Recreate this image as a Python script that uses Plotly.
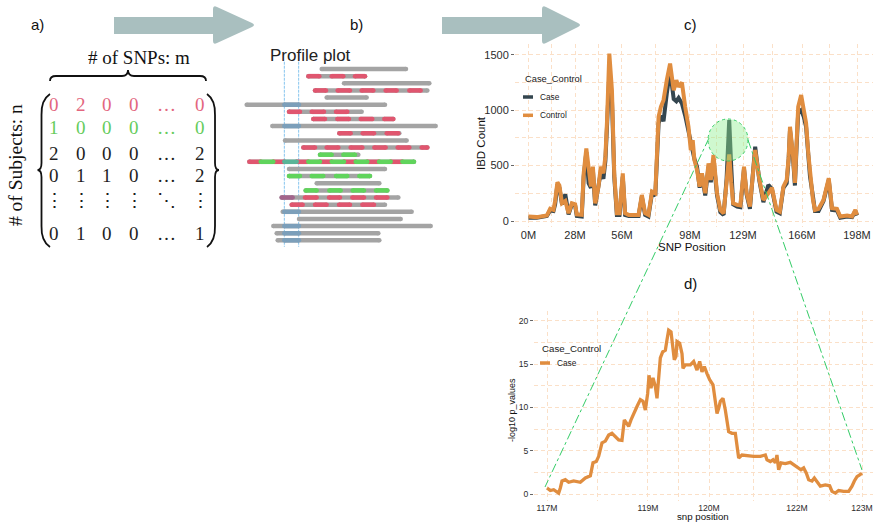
import plotly.graph_objects as go

W, H = 873, 522

# ---------------- data: panel c (IBD counts along the chromosome) ----------------
snp_idx = [0, 2.5, 5.6, 6.6, 7.6, 8.1, 8.8, 9.4, 10.2, 11.2, 12.2, 13.2, 14.2, 14.7, 16.2,
           16.8, 17.6, 18.3, 19.0, 19.6, 20.3, 21.3, 22.0, 22.8, 23.4, 23.9, 24.6, 25.4,
           26.1, 26.9, 27.7, 28.7, 29.4, 30.5, 33.5, 34.5, 35.5, 36.5, 37.6, 38.6, 39.1,
           39.6, 40.3, 41.1, 42.1, 43.1, 44.2, 45.0, 45.7, 46.7, 47.7, 48.7, 49.4, 50.0,
           50.5, 51.3, 52.1, 52.8, 53.8, 54.8, 55.5, 56.3, 57.4, 58.4, 59.4, 60.3, 61.1,
           61.7, 62.3, 63.5, 64.5, 65.6, 66.4, 67.4, 69.0, 70.3, 71.5, 73.0, 74.1, 75.5,
           76.5, 77.6, 78.6, 79.2, 79.6, 80.5, 81.1, 81.6, 82.1, 83.0, 83.8, 84.5, 85.2,
           85.7, 86.6, 87.2, 88.3, 89.8, 91.4, 92.4, 93.9, 94.9, 97.0, 98.5, 99.5, 100]
control_ibd = [40, 35, 50, 110, 100, 180, 350, 320, 160, 180, 70, 160, 150, 60, 55,
               430, 655, 490, 310, 490, 160, 310, 490, 430, 580, 900, 1510, 1180,
               430, 70, 70, 430, 70, 55, 55, 235, 70, 55, 265, 250, 600,
               940, 1030, 1090, 1270, 1420, 1180, 1270, 1210, 1250, 1030, 850, 640, 730,
               550, 460, 310, 430, 250, 520, 370, 595, 250, 100, 70, 370, 600,
               350, 160, 145, 140, 490, 250, 130, 640, 370, 190, 250, 300, 100,
               85, 310, 370, 580, 850, 600, 343, 700, 1030, 1136, 1000, 883, 600,
               433, 190, 100, 110, 190, 385, 115, 110, 40, 50, 40, 100, 55]
case_ibd = [30, 30, 45, 95, 90, 150, 330, 300, 150, 240, 60, 150, 140, 45, 40,
            400, 620, 340, 300, 460, 140, 290, 440, 380, 540, 850, 1330, 1100,
            400, 55, 55, 400, 55, 45, 45, 220, 55, 40, 250, 230, 560,
            880, 950, 900, 1150, 1360, 1100, 1080, 1110, 1060, 950, 800, 720, 650,
            560, 490, 300, 420, 230, 490, 350, 560, 230, 80, 55, 380, 910,
            500, 150, 130, 125, 470, 240, 110, 670, 360, 170, 325, 290, 85,
            70, 300, 340, 560, 820, 580, 320, 660, 980, 1000, 940, 850, 560,
            400, 220, 90, 90, 180, 370, 100, 95, 30, 40, 35, 90, 50]
c_tick_idx = [0, 14.16, 28.46, 49.16, 65.3, 83.26, 100]
c_tick_text = ["0M", "28M", "56M", "98M", "129M", "166M", "198M"]
c_minor_idx = [7.08, 21.31, 38.81, 57.23, 74.28, 91.63]
c_y_ticks = [0, 500, 1000, 1500]
c_y_minor = [250, 750, 1250]

# ---------------- data: panel d (-log10 p values in the zoomed region) ----------------
zoom_idx = [0, 1.06, 2.12, 3.17, 3.7, 4.23, 4.76, 5.82, 6.88, 8.47, 10.58, 12.17, 13.76,
            14.6, 15.66, 16.4, 17.46, 18.52, 19.58, 20.63, 21.69, 22.75, 23.8, 24.55,
            25.19, 25.93, 26.67, 27.51, 28.57, 29.63, 30.48, 31.22, 31.96, 32.38, 33.02,
            33.65, 34.39, 34.92, 35.45, 35.98, 36.72, 37.57, 38.1, 38.62, 39.37, 40.0,
            40.42, 40.95, 41.27, 42.12, 42.86, 43.17, 43.92, 45.5, 46.56, 47.62, 48.47,
            49.2, 49.95, 50.79, 51.64, 52.7, 53.44, 53.97, 54.5, 55.03, 55.87, 56.61,
            57.67, 58.73, 59.79, 60.32, 60.85, 61.9, 63.49, 65.61, 67.72, 69.31, 69.84,
            70.9, 71.75, 72.49, 73.0, 73.54, 74.29, 75.66, 77.25, 78.3, 79.58, 80.63,
            81.48, 82.33, 83.07, 84.13, 84.87, 85.71, 86.77, 88.36, 89.73, 90.48, 91.53,
            92.59, 94.18, 95.77, 96.83, 97.57, 98.41, 99.26, 100]
neglog_p = [0.7, 0.4, 0.5, 0.3, 0.1, 0.7, 1.5, 1.65, 1.35, 1.5, 1.35, 1.85, 2.1,
            3.6, 3.75, 4.35, 5.9, 6.1, 6.8, 7.0, 6.6, 6.25, 6.2, 8.55,
            8.2, 7.8, 8.55, 9.3, 10.1, 10.9, 10.7, 9.7, 11.6, 13.7, 12.2,
            13.4, 12.4, 11.05, 13.2, 15.7, 16.4, 16.6, 17.8, 18.9, 18.7, 17.0,
            15.5, 15.9, 17.6, 17.4, 16.2, 14.5, 14.9, 14.9, 15.3, 14.3, 15.3,
            14.1, 14.7, 13.9, 13.2, 12.6, 10.9, 9.3, 9.9, 10.7, 11.05, 9.7,
            7.2, 7.0, 7.0, 5.5, 4.15, 4.5, 4.4, 4.35, 4.35, 4.5, 3.95,
            3.75, 3.95, 3.6, 4.5, 2.8, 3.6, 3.5, 3.65, 3.4, 3.0, 2.8,
            3.0, 2.4, 1.65, 1.5, 1.85, 1.35, 0.9, 1.05, 0.95, 0.3, 0.1,
            0.4, 0.3, 0.3, 0.9, 1.5, 2.0, 2.2, 2.4]
d_tick_idx = [0, 32.06, 51.43, 79.37, 100]
d_tick_text = ["117M", "119M", "120M", "122M", "123M"]
d_minor_idx = [16.03, 41.75, 65.4, 89.68]
d_y_ticks = [0, 5, 10, 15, 20]
d_y_minor = [2.5, 7.5, 12.5, 17.5]

# ---------------- data: panel a (genotype matrix) ----------------
matrix_rows = [["0", "2", "0", "0", "\u2026", "0"],
               ["1", "0", "0", "0", "\u2026", "0"],
               ["2", "0", "0", "0", "\u2026", "2"],
               ["0", "1", "1", "0", "\u2026", "2"],
               ["\u22ee", "\u22ee", "\u22ee", "\u22ee", "\u22f1", "\u22ee"],
               ["0", "1", "0", "0", "\u2026", "1"]]
matrix_row_kind = ["red", "green", "plain", "plain", "plain", "plain"]

# ---------------- data: panel b (profile plot segments per subject) ----------------
profile_rows = [
    (24.5, 49.8, []),
    (20.5, 37.5, [("red", 20.5, 23.8), ("red", 27.5, 31.0), ("red", 34.5, 37.5)]),
    (31.2, 56.8, []),
    (22.5, 56.2, [("red", 22.5, 25.8), ("red", 29.3, 33.0), ("red", 36.5, 40.0),
                  ("red", 43.7, 47.0), ("red", 50.8, 54.2)]),
    (26.0, 38.0, []),
    (2.0, 43.5, [("blue", 13.3, 17.7)]),
    (14.7, 36.5, [("red", 14.7, 18.0), ("red", 21.5, 25.2), ("red", 28.8, 32.2)]),
    (22.0, 46.0, [("red", 22.0, 25.5), ("red", 29.2, 32.7), ("red", 36.2, 39.7),
                  ("red", 43.3, 46.0)]),
    (9.7, 58.7, [("blue", 13.3, 17.7)]),
    (29.8, 47.8, [("red", 29.8, 33.2), ("red", 36.8, 40.2), ("red", 44.0, 47.5)]),
    (13.5, 50.0, []),
    (19.0, 56.2, [("red", 19.0, 22.5), ("red", 26.0, 29.5), ("red", 33.2, 36.7),
                  ("red", 40.3, 43.7), ("red", 47.3, 50.8), ("red", 54.5, 56.2)]),
    (24.0, 35.5, [("green", 24.0, 27.5), ("green", 31.0, 34.5)]),
    (2.8, 52.2, [("red", 2.8, 6.2), ("green", 6.2, 10.0), ("red", 10.0, 13.3),
                 ("teal", 13.3, 17.0), ("red", 17.0, 20.5), ("green", 20.5, 24.0),
                 ("red", 24.0, 27.5), ("green", 27.5, 31.2), ("red", 31.2, 34.7),
                 ("green", 34.7, 38.2), ("red", 38.2, 41.7), ("green", 41.7, 45.2),
                 ("red", 45.2, 48.7), ("green", 48.7, 52.2)]),
    (14.7, 43.5, []),
    (14.7, 39.0, [("green", 14.7, 18.0), ("green", 21.5, 25.0), ("green", 28.8, 32.2),
                  ("green", 35.8, 39.0)]),
    (23.0, 41.8, []),
    (19.7, 44.2, [("green", 19.7, 23.0), ("green", 26.8, 30.2), ("green", 33.8, 37.2),
                  ("green", 40.8, 44.2)]),
    (12.5, 47.5, [("purple", 12.5, 15.8), ("red", 19.5, 23.0), ("red", 26.7, 30.0),
                  ("red", 33.7, 37.2), ("red", 40.8, 44.2)]),
    (15.5, 43.5, [("red", 15.5, 18.8), ("red", 22.5, 26.0), ("red", 29.7, 33.0),
                  ("red", 36.7, 40.2)]),
    (12.8, 51.5, [("blue", 13.3, 17.7)]),
    (17.7, 48.2, []),
    (10.0, 57.2, [("blue", 13.3, 17.7)]),
    (11.0, 41.5, [("blue", 13.3, 17.7)]),
    (11.3, 41.8, [("blue", 13.3, 17.7)]),
]
window_bounds = [13.3, 17.6]

# ---------------- styles ----------------
ORANGE = "#E08D3F"
DARK = "#34464F"
GRID = "#FBE0C8"
ARROW = "#A9BFBF"
SEG_COL = {"gray": "#A4A4A4", "red": "#E0566F", "green": "#60D45C", "blue": "#7C9FBA",
           "teal": "#5AB598", "purple": "#A2658C"}
MAT_COL = {"red": "#E3667E", "green": "#66CC5C", "plain": "#1E1E1E"}
SANS = "Liberation Sans"
SERIF = "Liberation Serif"


def px(x):
    return x / W


def py(y):
    return 1 - y / H


def lin_range(dom0, dom1, a0, a1, v0, v1):
    k = (v1 - v0) / (a1 - a0)
    return [v0 + (dom0 - a0) * k, v0 + (dom1 - a0) * k]


def ppath(cmds):
    out = []
    for c in cmds:
        op = c[0]
        nums = c[1:]
        pts = []
        for i in range(0, len(nums), 2):
            pts.append(f"{px(nums[i]):.5f},{py(nums[i + 1]):.5f}")
        out.append(op + " " + " ".join(pts) if pts else op)
    return " ".join(out)


fig = go.Figure()

# ---------------- panel c traces ----------------
fig.add_trace(go.Scatter(x=snp_idx, y=case_ibd, mode="lines", name="Case",
                         line=dict(color=DARK, width=4), xaxis="x", yaxis="y",
                         showlegend=False))
fig.add_trace(go.Scatter(x=snp_idx, y=control_ibd, mode="lines", name="Control",
                         line=dict(color=ORANGE, width=4), xaxis="x", yaxis="y",
                         showlegend=False))

# ---------------- panel d trace ----------------
fig.add_trace(go.Scatter(x=zoom_idx, y=neglog_p, mode="lines", name="Case",
                         line=dict(color=ORANGE, width=3.3), xaxis="x2", yaxis="y2",
                         showlegend=False))

# ---------------- panel b traces ----------------
def add_segments(color_key, segs):
    xs, ys = [], []
    for (r, s, e) in segs:
        xs += [s, e, None]
        ys += [r, r, None]
    if xs:
        fig.add_trace(go.Scatter(x=xs, y=ys, mode="lines+markers", xaxis="x3", yaxis="y3",
                                 line=dict(color=SEG_COL[color_key], width=4.5),
                                 marker=dict(color=SEG_COL[color_key], size=4.5,
                                             line=dict(width=0)),
                                 showlegend=False, hoverinfo="skip"))


base = [(i + 1, s, e) for i, (s, e, _) in enumerate(profile_rows)]
add_segments("gray", base)
for key in ["blue", "red", "green", "teal", "purple"]:
    segs = []
    for i, (_, _, cs) in enumerate(profile_rows):
        for (k, s, e) in cs:
            if k == key:
                segs.append((i + 1, s, e))
    add_segments(key, segs)

shapes = []
annotations = []

# blue window lines in panel b
for xb in window_bounds:
    shapes.append(dict(type="line", xref="x3", yref="y3", x0=xb, x1=xb, y0=-0.02, y1=25.9,
                       line=dict(color="#86C5EE", width=1, dash="3px,1px"), layer="below"))

# ---------------- arrows ----------------
for (bx0, bx1, tip) in [(114, 213, 256), (442, 542, 582)]:
    shapes.append(dict(type="path", xref="paper", yref="paper", layer="below",
                       fillcolor=ARROW, line=dict(width=0),
                       path=ppath([("M", bx0, 17), ("L", bx1, 17), ("L", bx1, 9),
                                   ("Q", bx1, 5, bx1 + 4, 7), ("L", tip - 4, 23),
                                   ("Q", tip, 25, tip - 4, 27), ("L", bx1 + 4, 43),
                                   ("Q", bx1, 45, bx1, 41), ("L", bx1, 34), ("L", bx0, 34),
                                   ("Z",)])))

# ---------------- panel a: braces / brackets ----------------
shapes.append(dict(type="path", xref="paper", yref="paper", line=dict(color="#111", width=1.8),
                   path=ppath([("M", 50, 81), ("Q", 50, 76, 56, 76), ("L", 122, 76),
                               ("Q", 128, 76, 128, 70), ("Q", 128, 76, 134, 76),
                               ("L", 200, 76), ("Q", 206, 76, 206, 81)])))
shapes.append(dict(type="path", xref="paper", yref="paper", line=dict(color="#111", width=1.8),
                   path=ppath([("M", 50, 94), ("Q", 41, 100, 41.5, 115), ("L", 41.5, 163),
                               ("Q", 41.5, 170, 37.5, 170), ("Q", 41.5, 170, 41.5, 177),
                               ("L", 41.5, 226), ("Q", 41, 241, 50, 247)])))
shapes.append(dict(type="path", xref="paper", yref="paper", line=dict(color="#111", width=1.8),
                   path=ppath([("M", 207, 94), ("Q", 215.5, 100, 215, 115), ("L", 215, 163),
                               ("Q", 215, 170, 219, 170), ("Q", 215, 170, 215, 177),
                               ("L", 215, 226), ("Q", 215.5, 241, 207, 247)])))

col_x = [54.3, 81, 107.3, 134.3, 166.7, 200]
row_y = [104, 127.7, 153, 175.5, 200, 233]
for ri, row in enumerate(matrix_rows):
    for ci, val in enumerate(row):
        annotations.append(dict(x=px(col_x[ci]), y=py(row_y[ri]), xref="paper", yref="paper",
                                text=val, showarrow=False, xanchor="center", yanchor="middle",
                                font=dict(family=SERIF, size=19,
                                          color=MAT_COL[matrix_row_kind[ri]])))

annotations.append(dict(x=px(139), y=py(57), xref="paper", yref="paper", text="# of SNPs: m",
                        showarrow=False, xanchor="center", yanchor="middle",
                        font=dict(family=SERIF, size=19, color="#111")))
annotations.append(dict(x=px(15), y=py(165), xref="paper", yref="paper",
                        text="# of Subjects: n", textangle=-90, showarrow=False,
                        xanchor="center", yanchor="middle",
                        font=dict(family=SERIF, size=19.5, color="#111")))

# panel letters and titles
for (t, x, y) in [("a)", 37, 25), ("b)", 356, 25), ("c)", 690, 25), ("d)", 690, 283)]:
    annotations.append(dict(x=px(x), y=py(y), xref="paper", yref="paper", text=t,
                            showarrow=False, xanchor="center", yanchor="middle",
                            font=dict(family=SANS, size=15, color="#111")))
annotations.append(dict(x=px(310), y=py(55), xref="paper", yref="paper", text="Profile plot",
                        showarrow=False, xanchor="center", yanchor="middle",
                        font=dict(family=SANS, size=17, color="#222")))

# axis titles
annotations.append(dict(x=px(692), y=py(247), xref="paper", yref="paper", text="SNP Position",
                        showarrow=False, xanchor="center", yanchor="middle",
                        font=dict(family=SANS, size=11.5, color="#111")))
annotations.append(dict(x=px(481), y=py(143), xref="paper", yref="paper", text="IBD Count",
                        textangle=-90, showarrow=False, xanchor="center", yanchor="middle",
                        font=dict(family=SANS, size=11.5, color="#111")))
annotations.append(dict(x=px(703), y=py(516), xref="paper", yref="paper", text="snp position",
                        showarrow=False, xanchor="center", yanchor="middle",
                        font=dict(family=SANS, size=9.7, color="#111")))
annotations.append(dict(x=px(512), y=py(410), xref="paper", yref="paper",
                        text="-log10 p_values", textangle=-90, showarrow=False,
                        xanchor="center", yanchor="middle",
                        font=dict(family=SANS, size=9, color="#111")))

# legends (manual)
def legend_block(x0, ytitle, items, size_title, size_item, gap):
    annotations.append(dict(x=px(x0), y=py(ytitle), xref="paper", yref="paper",
                            text="Case_Control", showarrow=False, xanchor="left",
                            yanchor="middle", font=dict(family=SANS, size=size_title,
                                                        color="#1a1a1a")))
    for j, (label, col) in enumerate(items):
        yy = ytitle + gap[0] + j * gap[1]
        shapes.append(dict(type="line", xref="paper", yref="paper", x0=px(x0), x1=px(x0 + 10),
                           y0=py(yy), y1=py(yy), line=dict(color=col, width=3.5)))
        annotations.append(dict(x=px(x0 + 15), y=py(yy), xref="paper", yref="paper",
                                text=label, showarrow=False, xanchor="left", yanchor="middle",
                                font=dict(family=SANS, size=size_item, color="#1a1a1a")))


legend_block(523, 79, [("Case", DARK), ("Control", ORANGE)], 9.3, 8.3, (18, 18.3))
legend_block(540, 348, [("Case", ORANGE)], 9.7, 8.3, (15, 0))

# zoom highlight circle and connectors
shapes.append(dict(type="line", xref="paper", yref="paper", x0=px(709), y0=py(138),
                   x1=px(545), y1=py(487), line=dict(color="#33CC66", width=1, dash="dashdot")))
shapes.append(dict(type="line", xref="paper", yref="paper", x0=px(748), y0=py(140),
                   x1=px(862), y1=py(470), line=dict(color="#33CC66", width=1, dash="dashdot")))
shapes.append(dict(type="circle", xref="paper", yref="paper", x0=px(708), x1=px(748),
                   y0=py(119), y1=py(161), fillcolor="rgba(140,238,140,0.42)",
                   line=dict(color="#33CC66", width=1, dash="dot"), layer="above"))

# ---------------- axes ----------------
TICKFONT_C = dict(family=SANS, size=11, color="#2b2b2b")
TICKFONT_D = dict(family=SANS, size=8.6, color="#2b2b2b")

c_L, c_R, c_T, c_B = 515, 873, 44, 227
d_L, d_R, d_T, d_B = 534, 873, 311, 501

grid_common = dict(showgrid=True, gridcolor=GRID, griddash="4px,3px", gridwidth=1,
                   zeroline=False, showline=False, automargin=False)

fig.update_layout(
    width=W, height=H, autosize=False,
    margin=dict(l=0, r=0, t=0, b=0, pad=0),
    paper_bgcolor="white", plot_bgcolor="white",
    xaxis=dict(domain=[px(c_L), px(c_R)], anchor="y",
               range=lin_range(c_L, c_R, 528.5, 857, 0, 100),
               tickmode="array", tickvals=c_tick_idx, ticktext=c_tick_text,
               tickfont=TICKFONT_C, ticks="",
               minor=dict(tickmode="array", tickvals=c_minor_idx, showgrid=True,
                          gridcolor=GRID, griddash="4px,3px", gridwidth=1),
               **grid_common),
    yaxis=dict(domain=[py(c_B), py(c_T)], anchor="x",
               range=lin_range(c_B, c_T, 221, 54.7, 0, 1500),
               tickmode="array", tickvals=c_y_ticks, tickfont=TICKFONT_C,
               ticks="outside", ticklen=3, tickcolor="#666", tickwidth=1,
               minor=dict(tickmode="array", tickvals=c_y_minor, showgrid=True,
                          gridcolor=GRID, griddash="4px,3px", gridwidth=1),
               **grid_common),
    xaxis2=dict(domain=[px(d_L), px(d_R)], anchor="y2",
                range=lin_range(d_L, d_R, 547, 862, 0, 100),
                tickmode="array", tickvals=d_tick_idx, ticktext=d_tick_text,
                tickfont=TICKFONT_D, ticks="",
                minor=dict(tickmode="array", tickvals=d_minor_idx, showgrid=True,
                           gridcolor=GRID, griddash="4px,3px", gridwidth=1),
                **grid_common),
    yaxis2=dict(domain=[py(d_B), py(d_T)], anchor="x2",
                range=lin_range(d_B, d_T, 494, 320.7, 0, 20),
                tickmode="array", tickvals=d_y_ticks, tickfont=TICKFONT_D,
                ticks="outside", ticklen=3, tickcolor="#666", tickwidth=1,
                minor=dict(tickmode="array", tickvals=d_y_minor, showgrid=True,
                           gridcolor=GRID, griddash="4px,3px", gridwidth=1),
                **grid_common),
    xaxis3=dict(domain=[px(240), px(440)], anchor="y3", range=[0, 60], visible=False,
                automargin=False),
    yaxis3=dict(domain=[py(250), py(60)], anchor="x3",
                range=[1 + (250 - 69) / 7.14, 1 + (60 - 69) / 7.14], visible=False,
                automargin=False),
    shapes=shapes,
    annotations=annotations,
    showlegend=False,
)

fig.write_html("out.html", config={"displayModeBar": False},
               post_script="document.body.style.margin='0px';document.body.style.padding='0px';")
